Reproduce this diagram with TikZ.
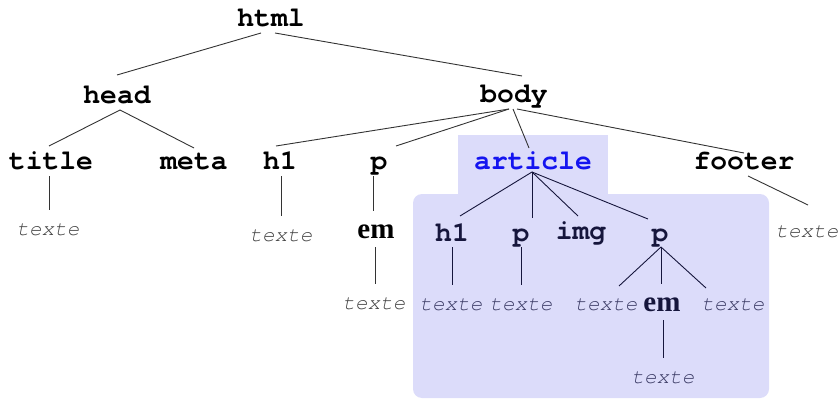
\documentclass[tikz,border=0pt]{standalone}
\usepackage{fontspec}
\setmonofont{texgyrecursor}[Extension=.otf, UprightFont=*-regular, BoldFont=*-bold, ItalicFont=*-italic, BoldItalicFont=*-bolditalic]
\newfontfamily\emfont{Liberation Serif}
\definecolor{boxbg}{HTML}{DCDCFA}
\definecolor{artblue}{HTML}{1414F0}
\definecolor{navy}{HTML}{16163C}
\definecolor{navytxt}{HTML}{3E3E68}
\definecolor{graytxt}{HTML}{454545}
\definecolor{edge}{HTML}{333333}
\tikzset{
  tag/.style={font=\ttfamily\bfseries\fontsize{28}{28}\selectfont, inner sep=0pt, outer sep=0pt,
    text height=24pt, text depth=6pt, anchor=base},
  inner tag/.style={tag, text=navy},
  txt/.style={font=\ttfamily\itshape\fontsize{21}{21}\selectfont, inner sep=0pt, outer sep=0pt,
    text height=25pt, text depth=0pt, anchor=base, text=graytxt},
  inner txt/.style={txt, text=navytxt},
  emnode/.style={font=\emfont\bfseries\fontsize{29}{29}\selectfont, inner sep=0pt, outer sep=0pt,
    text height=27pt, text depth=9pt, anchor=base},
  link/.style={draw=edge, line width=0.9pt},
  inner link/.style={draw=navy, line width=0.9pt},
}
\begin{document}
\begin{tikzpicture}[x=1pt, y=-1pt]
\useasboundingbox (0,0) rectangle (838,401);
% blue background
\fill[boxbg] (458,135) rectangle (608,196);
\fill[boxbg, rounded corners=9pt] (413,194) rectangle (769,398);
% nodes
\node[tag] (html) at (271,27) {html};
\node[tag] (head) at (117,104) {head};
\node[tag] (body) at (514,103) {body};
\node[tag] (title) at (51,170) {title};
\node[tag] (meta) at (194,170) {meta};
\node[tag] (h1a) at (280,170) {h1};
\node[tag] (pa) at (379,170) {p};
\node[tag, text=artblue] (article) at (533,170) {article};
\node[tag] (footer) at (744,170) {footer};
\node[txt] (t1) at (48,235) {texte};
\node[txt] (t2) at (281,241) {texte};
\node[emnode] (ema) at (376,238) {em};
\node[txt] (t3) at (374,309) {texte};
\node[txt] (t4) at (807,237) {texte};
\node[inner tag] (h1b) at (452,241) {h1};
\node[inner tag] (pb) at (521,241) {p};
\node[inner tag] (img) at (581,239) {img};
\node[inner tag] (pc) at (660,241) {p};
\node[inner txt] (t5) at (451,310) {texte};
\node[inner txt] (t6) at (521,310) {texte};
\node[inner txt] (t7) at (606,310) {texte};
\node[emnode, text=navy] (emb) at (662,311) {em};
\node[inner txt] (t8) at (733,310) {texte};
\node[inner txt] (t9) at (663,383) {texte};
% connectors
\draw[link] ([xshift=-10pt]html.south) -- ([yshift=5pt]head.north);
\draw[link] ([xshift=4pt]html.south) -- ([xshift=8pt,yshift=3pt]body.north);
\draw[link] ([xshift=3pt]head.south) -- ([xshift=-2pt]title.north);
\draw[link] ([xshift=3pt]head.south) -- ([yshift=-2pt]meta.north);
\draw[link] ([xshift=-5pt]body.south) -- ([xshift=-4pt]h1a.north);
\draw[link] ([xshift=-5pt]body.south) -- ([xshift=17pt]pa.north);
\draw[link] ([xshift=-1pt]body.south) -- ([xshift=-4pt,yshift=-2pt]article.north);
\draw[link] ([xshift=3pt]body.south) -- ([yshift=-7pt]footer.north);
\draw[link] ([xshift=-2pt]title.south) -- ([xshift=1pt]t1.north);
\draw[link] ([xshift=1pt]h1a.south) -- (t2.north);
\draw[link] ([xshift=-6pt]pa.south) -- ([xshift=-3pt]ema.north);
\draw[link] ([xshift=-1pt]ema.south) -- ([xshift=1pt]t3.north);
\draw[link] ([xshift=4pt]footer.south) -- ([xshift=1pt,yshift=7pt]t4.north);
\draw[inner link] ([xshift=-1pt,yshift=4pt]article.south) -- ([xshift=8pt,yshift=1pt]h1b.north);
\draw[inner link] ([xshift=-1pt,yshift=4pt]article.south) -- ([xshift=11pt,yshift=-1pt]pb.north);
\draw[inner link] ([xshift=-1pt,yshift=4pt]article.south) -- ([xshift=-3pt,yshift=-1pt]img.north);
\draw[inner link] ([xshift=-1pt,yshift=4pt]article.south) -- ([xshift=-12pt,yshift=-2pt]pc.north);
\draw[inner link] (h1b.south) -- ([xshift=1pt]t5.north);
\draw[inner link] (pb.south) -- (t6.north);
\draw[inner link] ([xshift=1pt]pc.south) -- ([xshift=13pt,yshift=-1pt]t7.north);
\draw[inner link] ([xshift=1pt]pc.south) -- ([xshift=-1pt]emb.north);
\draw[inner link] ([xshift=1pt]pc.south) -- ([xshift=-27pt,yshift=-3pt]t8.north);
\draw[inner link] ([xshift=1pt]emb.south) -- (t9.north);
\end{tikzpicture}
\end{document}
